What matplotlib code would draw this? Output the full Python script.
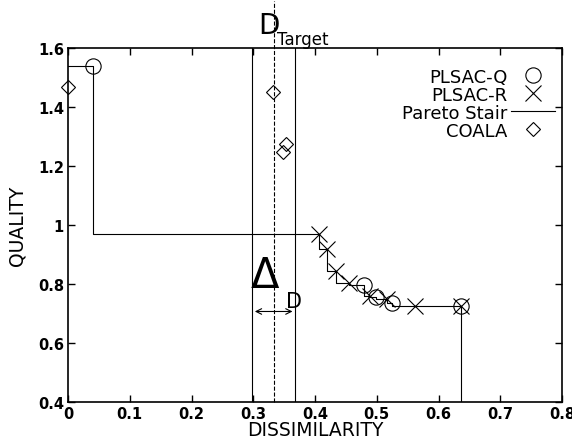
import numpy as np
import matplotlib
matplotlib.use("Agg")
import matplotlib.pyplot as plt

# PLSAC-Q solutions (dissimilarity, quality)
q_dissim = [0.040, 0.479, 0.499, 0.525, 0.637]
q_quality = [1.539, 0.797, 0.756, 0.736, 0.725]

# PLSAC-R solutions
r_dissim = [0.406, 0.419, 0.434, 0.455, 0.489, 0.517, 0.562, 0.637]
r_quality = [0.969, 0.919, 0.844, 0.803, 0.759, 0.749, 0.725, 0.725]

# COALA solutions
c_dissim = [0.0, 0.332, 0.353, 0.348]
c_quality = [1.468, 1.451, 1.275, 1.247]

d_target = 0.333
delta_d = 0.035

x_ticks = [0, 0.1, 0.2, 0.3, 0.4, 0.5, 0.6, 0.7, 0.8]
y_ticks = [0.4, 0.6, 0.8, 1.0, 1.2, 1.4, 1.6]

# pareto stair through both PLSAC runs
pts = sorted(set(zip(q_dissim + r_dissim, q_quality + r_quality)))
front = []
for x, y in pts:
    if not front or y <= front[-1][1]:
        front.append((x, y))
stair_x = [0.0] + [p[0] for p in front] + [front[-1][0]]
stair_y = [front[0][1]] + [p[1] for p in front] + [0.4]

fig = plt.figure(figsize=(5.72, 4.39), dpi=100)
ax = fig.add_axes([0.119, 0.082, 0.8635, 0.806])

ax.plot(stair_x, stair_y, drawstyle="steps-pre", color="k", lw=0.8,
        label="Pareto Stair", zorder=2)
ax.plot(q_dissim, q_quality, "o", mfc="none", mec="k", ms=11, mew=0.8,
        label="PLSAC-Q", zorder=3)
ax.plot(r_dissim, r_quality, "x", color="k", ms=12, mew=0.8,
        label="PLSAC-R", zorder=3)
ax.plot(c_dissim, c_quality, "D", mfc="none", mec="k", ms=7, mew=0.8,
        label="COALA", zorder=3, clip_on=False)

# target band
ax.axvline(d_target - delta_d, color="k", lw=0.8)
ax.axvline(d_target + delta_d, color="k", lw=0.8)
ax.plot([d_target, d_target], [0.4, 1.76], "--", color="k", lw=0.8, clip_on=False)
ax.text(d_target - 0.025, 1.63, "D", fontsize=20, ha="left", va="bottom")
ax.text(d_target + 0.005, 1.6, "Target", fontsize=12, ha="left", va="bottom")

ax.annotate("", xy=(d_target - delta_d, 0.707), xytext=(d_target + delta_d, 0.707),
            arrowprops=dict(arrowstyle="<->", color="k", lw=0.8))
ax.text(d_target - 0.037, 0.76, "\u0394", fontsize=30, ha="left", va="bottom")
ax.text(d_target + 0.02, 0.71, "D", fontsize=15, ha="left", va="bottom")

ax.set_xlim(0, 0.8)
ax.set_ylim(0.4, 1.6)
ax.set_xticks(x_ticks)
ax.set_yticks(y_ticks)
ax.set_xticklabels(["%g" % t for t in x_ticks], fontweight="bold", fontsize=10.5)
ax.set_yticklabels(["%g" % t for t in y_ticks], fontweight="bold", fontsize=10.5)
ax.tick_params(direction="in", top=True, right=True, length=5, width=1, pad=3)
for s in ax.spines.values():
    s.set_linewidth(1.2)

ax.set_xlabel("DISSIMILARITY", fontsize=13.5, labelpad=-1)
ax.set_ylabel("QUALITY", fontsize=13.5, labelpad=8)

h, l = ax.get_legend_handles_labels()
order = [1, 2, 0, 3]
ax.legend([h[i] for i in order], [l[i] for i in order], loc="upper right",
          frameon=False, markerfirst=False, fontsize=13, labelspacing=0.0,
          handlelength=2.4, handletextpad=0.2, borderaxespad=0.0,
          bbox_to_anchor=(1.0, 0.965))

fig.savefig("out.png", dpi=100)
